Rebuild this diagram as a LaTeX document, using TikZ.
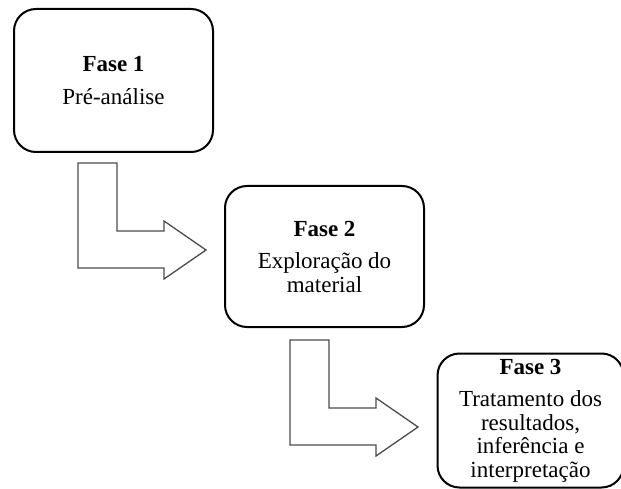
\documentclass[tikz,border=0pt]{standalone}
\usepackage{fontspec}
\setmainfont{Liberation Serif}
\begin{document}
\begin{tikzpicture}[x=1pt,y=-1pt,
  phase/.style={draw=black, line width=2pt, rounded corners=22pt,
    align=center, inner sep=0pt, fill=white,
    font=\fontsize{23}{23.5}\selectfont},
  arrowline/.style={draw=black!70, line width=1.3pt, fill=white, line join=miter},
  bentarrow/.pic={
    \draw[arrowline] (0,0) -- (39,0) -- (39,68) -- (86,68) -- (86,58)
      -- (128,87) -- (86,116) -- (86,105) -- (0,105) -- cycle;
  }]
  % page area
  \fill[white] (0,0) rectangle (621,489);
  \useasboundingbox (0,0) rectangle (621,489);

  % the three phases
  \node[phase, minimum width=199pt, minimum height=143pt] (f1) at (113.5,80.5)
    {\textbf{Fase 1}\\[10pt]Pré-análise};
  \node[phase, minimum width=199pt, minimum height=141pt] (f2) at (324.5,256.5)
    {\textbf{Fase 2}\\[9pt]Exploração do\\material};
  \node[phase, minimum width=186pt, minimum height=134pt] (f3) at (530.5,420.5)
    {\textbf{Fase 3}\\[9pt]Tratamento dos\\resultados,\\inferência e\\interpretação};

  % bent arrows leading from one phase to the next
  \pic at ([shift={(-35.5,10)}]f1.south) {bentarrow};
  \pic at ([shift={(-34.5,12)}]f2.south) {bentarrow};
\end{tikzpicture}
\end{document}
